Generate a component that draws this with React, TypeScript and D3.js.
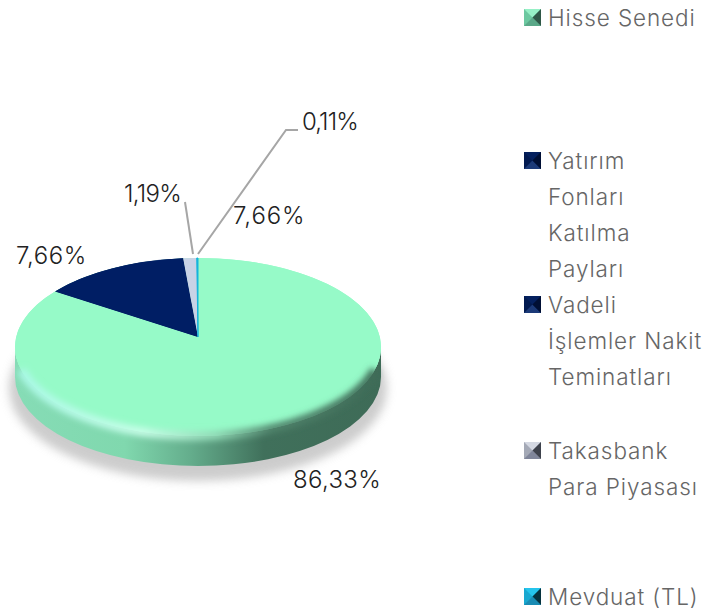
import React from "react";
import * as d3 from "d3";

const categories = ["Hisse Senedi", "Yatırım Fonları Katılma Payları", "Vadeli İşlemler Nakit Teminatları", "Takasbank Para Piyasası", "Mevduat (TL)"];
// Slice sizes; the printed labels are kept separately.
const values = [86.33, 7.66, 5.4, 1.19, 0.11];
const valueLabels = ["86,33%", "7,66%", "7,66%", "1,19%", "0,11%"];
const sliceColors = ["#96fac8", "#001e64", "#001e64", "#c8d2e6", "#14b4dc"];
const legendLines = [["Hisse Senedi"], ["Yatırım", "Fonları", "Katılma", "Payları"], ["Vadeli", "İşlemler Nakit", "Teminatları"], ["Takasbank", "Para Piyasası"], ["Mevduat (TL)"]];
const legendTops = [18, 161, 305, 451, 597];
const markerShades = [
  { top: "#96f0c6", left: "#6cc8a0", right: "#2f5747", bottom: "#5aa888" },
  { top: "#04205e", left: "#021a50", right: "#000f34", bottom: "#1c3a78" },
  { top: "#04205e", left: "#021a50", right: "#000f34", bottom: "#1c3a78" },
  { top: "#d4d8e2", left: "#a4a9b6", right: "#3e424c", bottom: "#80869a" },
  { top: "#25c4ec", left: "#18a8d0", right: "#06323f", bottom: "#1a8cb4" },
];
const font = "'Inter', 'Lato', sans-serif";

const cx = 198, cy = 347, rx = 183, ry = 89, apexY = 337, depth = 30;
const px = (a: number) => cx + rx * Math.sin(a);
const py = (a: number) => cy - ry * Math.cos(a);
const labelPlaces = [
  { x: 293, y: 488, ls: 0.35 },
  { x: 16, y: 264, ls: 0.6 },
  { x: 233, y: 224, ls: 0.9 },
  { x: 124, y: 202, ls: -0.7 },
  { x: 302, y: 130, ls: -0.9 },
];

export default function App() {
  const pie = d3.pie<number>().sort(null)(values);
  const topEllipse = `M${cx - rx},${cy}A${rx},${ry} 0 1 1 ${cx + rx},${cy}A${rx},${ry} 0 1 1 ${cx - rx},${cy}Z`;
  const side = `M${cx - rx},${cy}A${rx},${ry} 0 0 0 ${cx + rx},${cy}L${cx + rx},${cy + depth}A${rx},${ry} 0 0 1 ${cx - rx},${cy + depth}Z`;
  const a0 = (-105 * Math.PI) / 180, a1 = (105 * Math.PI) / 180;
  const rim = `M${px(a0)},${py(a0)}A${rx},${ry} 0 0 0 ${px(a1)},${py(a1)}`;
  const wedge = (s: number, e: number) => `M${cx},${apexY}L${px(s)},${py(s)}A${rx},${ry} 0 ${e - s > Math.PI ? 1 : 0} 1 ${px(e)},${py(e)}Z`;
  return (
    <svg width={721} height={615} style={{ position: "absolute", left: 0, top: 0 }}>
      <defs>
        <linearGradient id="side" x1="0" x2="1" y1="0" y2="0">
          <stop offset="0" stopColor="#86dcb6" />
          <stop offset="0.3" stopColor="#80d8ae" />
          <stop offset="0.48" stopColor="#64ad8c" />
          <stop offset="0.68" stopColor="#40705b" />
          <stop offset="1" stopColor="#3e6b57" />
        </linearGradient>
        <linearGradient id="rim" gradientUnits="userSpaceOnUse" x1={cx - rx} x2={cx + rx} y1="0" y2="0">
          <stop offset="0" stopColor="#a8f8e6" />
          <stop offset="0.35" stopColor="#c8fee8" />
          <stop offset="0.55" stopColor="#8fd8b4" />
          <stop offset="0.7" stopColor="#50846c" />
          <stop offset="1" stopColor="#3e6b57" />
        </linearGradient>
        <filter id="blurS" filterUnits="userSpaceOnUse" x="0" y="240" width="420" height="270"><feGaussianBlur stdDeviation="5" /></filter>
        <filter id="blurR" filterUnits="userSpaceOnUse" x="0" y="240" width="420" height="270"><feGaussianBlur stdDeviation="3" /></filter>
      </defs>
      <ellipse cx={cx} cy={cy + depth + 11} rx={rx + 6} ry={ry + 4} fill="#c4c4c4" opacity={0.85} filter="url(#blurS)" />
      <path d={side} fill="url(#side)" />
      <path d={topEllipse} fill={sliceColors[0]} />
      <path d={wedge(pie[1].startAngle, pie[2].endAngle)} fill={sliceColors[1]} />
      {pie.map((d, i) => (
        <path key={categories[i]} fill={sliceColors[i]} stroke={i === 4 ? sliceColors[i] : "none"} strokeWidth={1} d={wedge(d.startAngle, d.endAngle)} />
      ))}
      <path d={rim} fill="none" stroke="url(#rim)" strokeWidth={9} filter="url(#blurR)" />
      <polyline points="193,254 185,202" fill="none" stroke="#a6a6a6" strokeWidth={2} />
      <polyline points="198,254 286,130 298,130" fill="none" stroke="#a6a6a6" strokeWidth={2} />
      <g fontFamily={font} fontWeight={300} fontSize={24} fill="#222">
        {valueLabels.map((l, i) => <text key={i} x={labelPlaces[i].x} y={labelPlaces[i].y} letterSpacing={labelPlaces[i].ls}>{l}</text>)}
      </g>
      {legendLines.map((lines, i) => {
        const t = legendTops[i], x0 = 524, y0 = t - 9, s = 17, m = 8.5, c = markerShades[i];
        const o = { x: x0 + m, y: y0 + m };
        return (
          <g key={categories[i]}>
            <rect x={x0} y={y0} width={s} height={s} fill={c.left} />
            <path fill={c.top} d={`M${x0},${y0}h${s}L${o.x},${o.y}Z`} />
            <path fill={c.bottom} d={`M${x0},${y0 + s}h${s}L${o.x},${o.y}Z`} />
            <path fill={c.right} d={`M${x0 + s},${y0}v${s}L${o.x},${o.y}Z`} />
            <text fontFamily={font} fontWeight={300} fontSize={22.5} fill="#666" letterSpacing={0.9}>
              {lines.map((l, j) => <tspan key={l} x={548} y={t + 8 + j * 36}>{l}</tspan>)}
            </text>
          </g>
        );
      })}
    </svg>
  );
}
